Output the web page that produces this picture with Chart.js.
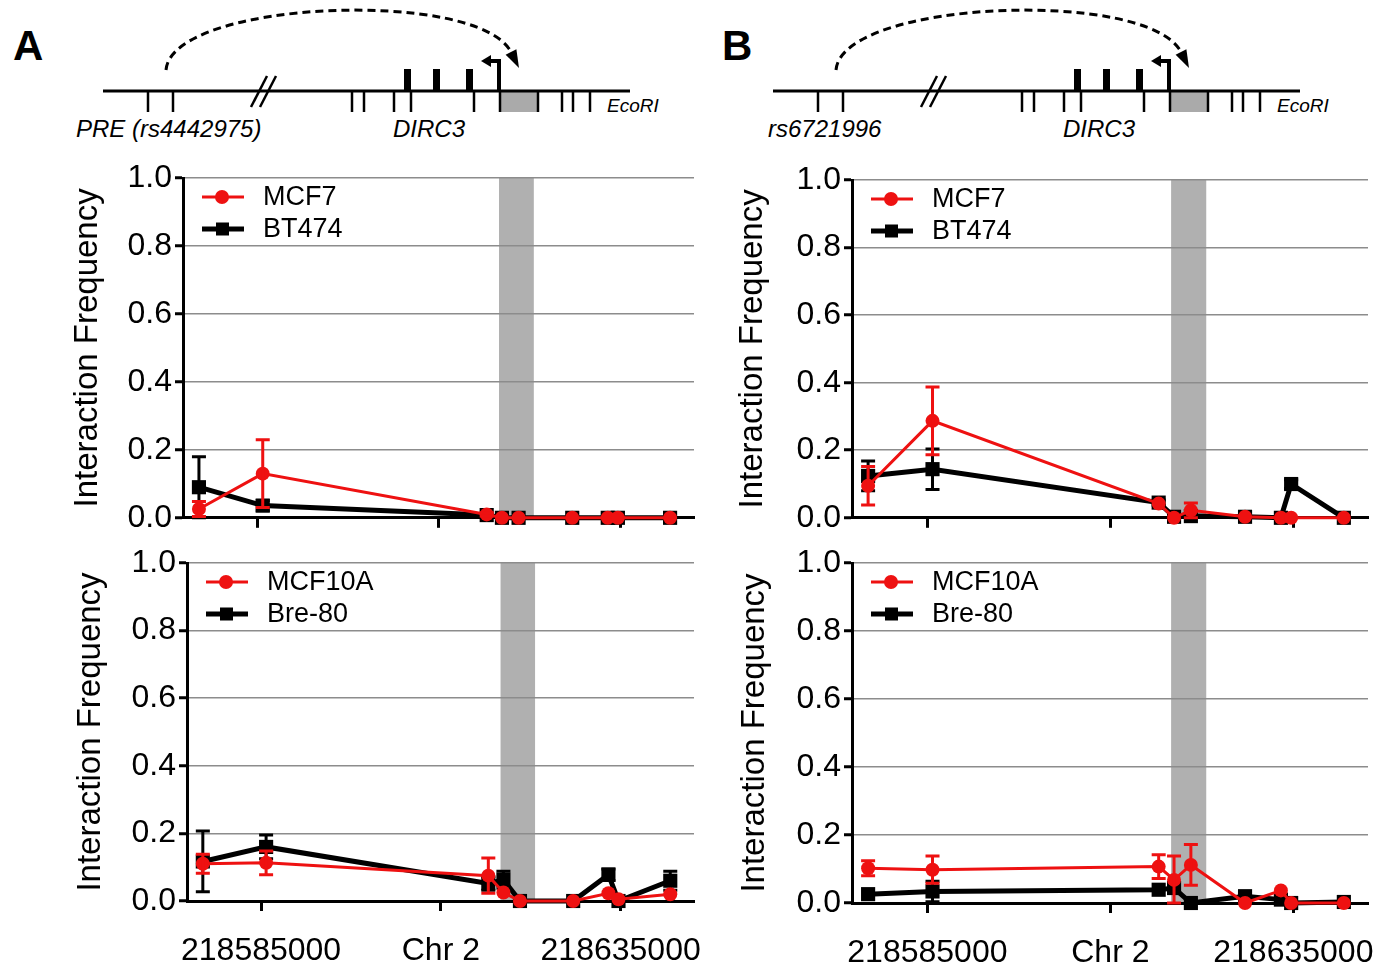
<!DOCTYPE html>
<html>
<head>
<meta charset="utf-8">
<script src="https://cdn.jsdelivr.net/npm/chart.js@4.4.0/dist/chart.umd.min.js"></script>
<style>
  body { margin: 0; background: #fff; }
  #page { position: relative; width: 1380px; height: 968px; overflow: hidden; background: #fff; }
  canvas { position: absolute; }
  svg { position: absolute; left: 0; top: 0; }
  svg text { font-family: 'Liberation Sans', Arial, sans-serif; }
</style>
</head>
<body>
<div id="page">
<svg width="1380" height="150">
  <defs>
    <g id="locus">
      <path d="M166 70 C172 0 478 -12 511 52" fill="none" stroke="#000" stroke-width="3" stroke-dasharray="8 5"/>
      <polygon points="519,68 516.4,49.3 505.6,54.7" fill="#000"/>
      <rect x="500" y="91" width="38" height="21" fill="#aaaaaa"/>
      <line x1="103" y1="91" x2="630" y2="91" stroke="#000" stroke-width="3"/>
      <g stroke="#000" stroke-width="2.5">
        <line x1="148" y1="91" x2="148" y2="112"/>
        <line x1="173" y1="91" x2="173" y2="112"/>
        <line x1="352" y1="91" x2="352" y2="112"/>
        <line x1="364" y1="91" x2="364" y2="112"/>
        <line x1="394" y1="91" x2="394" y2="112"/>
        <line x1="411" y1="91" x2="411" y2="112"/>
        <line x1="474" y1="91" x2="474" y2="112"/>
        <line x1="500" y1="91" x2="500" y2="112"/>
        <line x1="538" y1="91" x2="538" y2="112"/>
        <line x1="562" y1="91" x2="562" y2="112"/>
        <line x1="573" y1="91" x2="573" y2="112"/>
        <line x1="590" y1="91" x2="590" y2="112"/>
        <line x1="251" y1="107" x2="267" y2="76"/>
        <line x1="260" y1="107" x2="276" y2="76"/>
      </g>
      <rect x="404" y="69" width="7" height="22" fill="#000"/>
      <rect x="433" y="69" width="7" height="22" fill="#000"/>
      <rect x="466" y="69" width="7" height="22" fill="#000"/>
      <path d="M499 91 V61 H490" fill="none" stroke="#000" stroke-width="4"/>
      <polygon points="481,61 491,55 491,67" fill="#000"/>
      <text x="607" y="112" font-size="19" font-style="italic">EcoRI</text>
      <text x="393" y="137" font-size="24" font-style="italic">DIRC3</text>
    </g>
  </defs>
  <use href="#locus"/>
  <use href="#locus" transform="translate(670,0)"/>
  <text x="76" y="137" font-size="24" font-style="italic">PRE (rs4442975)</text>
  <text x="768" y="137" font-size="24" font-style="italic">rs6721996</text>
  <text x="13" y="60" font-size="42" font-weight="bold">A</text>
  <text x="722" y="60" font-size="42" font-weight="bold">B</text>
</svg>
<canvas id="aTop" width="734" height="400" style="left:0;top:140px"></canvas>
<canvas id="aBottom" width="734" height="428" style="left:0;top:540px"></canvas>
<canvas id="bTop" width="708" height="400" style="left:700px;top:140px"></canvas>
<canvas id="bBottom" width="708" height="428" style="left:700px;top:540px"></canvas>
</div>
<script>
// fragment positions on chr2 (bp)
const positions = [218576900, 218585700, 218616600, 218618700, 218621000, 218628400, 218633300, 218634700, 218641900];
const tickValues = [218585000, 218610000, 218635000];
const tickLabels = ['218585000', 'Chr 2', '218635000'];
const xMin = 218574700;
const xMax = 218645200;
const bandStart = 218618300;
const bandEnd = 218623100;

// A: PRE (rs4442975)
const mcf7A = [0.026, 0.130, 0.010, 0, 0, 0, 0, 0, 0];
const mcf7AErr = [0.022, 0.100, 0.005, 0, 0, 0, 0, 0, 0];
const bt474A = [0.090, 0.036, 0.008, 0, 0, 0, 0, 0, 0];
const bt474AErr = [0.090, 0.015, 0, 0, 0, 0, 0, 0, 0];
const mcf10aA = [0.110, 0.113, 0.075, 0.025, 0, 0, 0.023, 0.005, 0.020];
const mcf10aAErr = [0.028, 0.035, 0.052, 0, 0, 0, 0, 0, 0];
const bre80A = [0.117, 0.160, 0.052, 0.063, 0, 0, 0.078, 0, 0.060];
const bre80AErr = [0.090, 0.035, 0.020, 0.025, 0, 0, 0.017, 0, 0.028];

// B: rs6721996
const mcf7B = [0.095, 0.287, 0.042, 0, 0.022, 0.003, 0, 0, 0];
const mcf7BErr = [0.057, 0.100, 0, 0, 0.022, 0, 0, 0, 0];
const bt474B = [0.124, 0.144, 0.045, 0.003, 0.005, 0.003, 0, 0.100, 0];
const bt474BErr = [0.044, 0.060, 0.008, 0, 0, 0, 0, 0.013, 0];
const mcf10aB = [0.102, 0.098, 0.107, 0.068, 0.112, 0, 0.037, 0, 0];
const mcf10aBErr = [0.022, 0.040, 0.035, 0.070, 0.060, 0, 0, 0, 0];
const bre80B = [0.026, 0.034, 0.039, 0.044, 0, 0.020, 0.010, 0, 0.003];
const bre80BErr = [0, 0.030, 0, 0, 0, 0, 0, 0, 0];

const RED = '#ee1111';
const BLACK = '#000000';
const FONT = "'Liberation Sans', Arial, sans-serif";

Chart.defaults.font.family = FONT;
Chart.defaults.color = '#000';

const bandPlugin = {
  id: 'band',
  beforeDraw(chart) {
    const {ctx, chartArea, scales: {x}} = chart;
    const x0 = x.getPixelForValue(bandStart);
    const x1 = x.getPixelForValue(bandEnd);
    ctx.save();
    ctx.fillStyle = '#b0b0b0';
    ctx.fillRect(x0, chartArea.top, x1 - x0, chartArea.bottom - chartArea.top);
    ctx.restore();
  }
};

const errorBars = {
  id: 'errorBars',
  afterDatasetDraw(chart, args) {
    const ds = chart.data.datasets[args.index];
    if (!ds.errors) return;
    const {ctx, scales: {x, y}} = chart;
    ctx.save();
    ctx.strokeStyle = ds.borderColor;
    ctx.lineWidth = 3;
    ds.data.forEach((p, i) => {
      const e = ds.errors[i];
      if (!e) return;
      const px = x.getPixelForValue(p.x);
      const top = y.getPixelForValue(p.y + e);
      const bot = y.getPixelForValue(Math.max(0, p.y - e));
      ctx.beginPath();
      ctx.moveTo(px, top);
      ctx.lineTo(px, bot);
      ctx.moveTo(px - 7, top);
      ctx.lineTo(px + 7, top);
      ctx.moveTo(px - 7, bot);
      ctx.lineTo(px + 7, bot);
      ctx.stroke();
    });
    ctx.restore();
  }
};

// legend inside the plot: short line with the marker on it, then the name
const lineLegend = {
  id: 'lineLegend',
  afterDraw(chart) {
    const {ctx, chartArea} = chart;
    ctx.save();
    ctx.font = '27px ' + FONT;
    ctx.textBaseline = 'middle';
    chart.data.datasets.forEach((ds, i) => {
      const y = chartArea.top + 19 + i * 32;
      const x = chartArea.left + 19;
      ctx.strokeStyle = ds.borderColor;
      ctx.fillStyle = ds.borderColor;
      ctx.lineWidth = ds.borderWidth;
      ctx.beginPath();
      ctx.moveTo(x, y);
      ctx.lineTo(x + 42, y);
      ctx.stroke();
      if (ds.pointStyle === 'circle') {
        ctx.beginPath();
        ctx.arc(x + 20, y, 7, 0, Math.PI * 2);
        ctx.fill();
      } else {
        ctx.fillRect(x + 14, y - 6.5, 13, 13);
      }
      ctx.fillStyle = '#000';
      ctx.fillText(ds.label, chartArea.left + 80, y + 1);
    });
    ctx.restore();
  }
};

function series(label, values, errors, color, marker) {
  const black = marker === 'rect';
  return {
    label: label,
    data: positions.map((p, i) => ({x: p, y: values[i]})),
    errors: errors,
    borderColor: color,
    backgroundColor: color,
    borderWidth: black ? 5 : 3,
    pointStyle: marker,
    pointRadius: black ? 10 : 7,
    pointBorderWidth: 0,
    pointBackgroundColor: color,
    clip: false,
    tension: 0
  };
}

function makePanel(p) {
  const yW = p.area[0] - p.left;
  const padTop = p.area[1] - p.top;
  const padRight = p.left + p.w - p.area[2];
  const xH = p.top + p.h - p.area[3];
  const titlePad = p.titleX - p.left - 33 * 1.2 / 2;

  new Chart(document.getElementById(p.id), {
    type: 'line',
    data: {datasets: p.datasets},
    plugins: [bandPlugin, errorBars, lineLegend],
    options: {
      responsive: false,
      animation: false,
      layout: {padding: {top: padTop, right: padRight, left: 0, bottom: 0}},
      plugins: {
        tooltip: {enabled: false},
        legend: {display: false}
      },
      scales: {
        x: {
          type: 'linear',
          min: xMin,
          max: xMax,
          afterBuildTicks: s => { s.ticks = tickValues.map(v => ({value: v})); },
          afterFit: s => { s.height = xH; },
          grid: {drawOnChartArea: false, drawTicks: true, tickLength: 10, tickColor: '#000', tickWidth: 3},
          border: {color: '#000', width: 3},
          ticks: {
            display: p.showX,
            autoSkip: false,
            maxRotation: 0,
            padding: 21,
            font: {size: 32},
            color: '#000',
            callback: (v, i) => tickLabels[i]
          }
        },
        y: {
          min: 0,
          max: 1,
          afterFit: s => { s.width = yW; },
          ticks: {stepSize: 0.2, padding: 3, font: {size: 32}, color: '#000', callback: v => v.toFixed(1)},
          grid: {color: '#8c8c8c', lineWidth: 1.5, tickColor: '#000', tickWidth: 3, tickLength: 8},
          border: {color: '#000', width: 3},
          title: {
            display: true,
            text: 'Interaction Frequency',
            font: {size: 33},
            color: '#000',
            padding: {top: titlePad, bottom: 0}
          }
        }
      }
    }
  });
}

makePanel({
  id: 'aTop', left: 0, top: 140, w: 734, h: 400, area: [183, 178, 694, 519], titleX: 88, showX: false,
  datasets: [
    series('MCF7', mcf7A, mcf7AErr, RED, 'circle'),
    series('BT474', bt474A, bt474AErr, BLACK, 'rect')
  ]
});
makePanel({
  id: 'aBottom', left: 0, top: 540, w: 734, h: 428, area: [187, 563, 694, 901], titleX: 91, showX: true,
  datasets: [
    series('MCF10A', mcf10aA, mcf10aAErr, RED, 'circle'),
    series('Bre-80', bre80A, bre80AErr, BLACK, 'rect')
  ]
});
makePanel({
  id: 'bTop', left: 700, top: 140, w: 708, h: 400, area: [852, 180, 1368, 522], titleX: 753, showX: false,
  datasets: [
    series('MCF7', mcf7B, mcf7BErr, RED, 'circle'),
    series('BT474', bt474B, bt474BErr, BLACK, 'rect')
  ]
});
makePanel({
  id: 'bBottom', left: 700, top: 540, w: 708, h: 428, area: [852, 563, 1368, 903], titleX: 755, showX: true,
  datasets: [
    series('MCF10A', mcf10aB, mcf10aBErr, RED, 'circle'),
    series('Bre-80', bre80B, bre80BErr, BLACK, 'rect')
  ]
});
</script>
</body>
</html>
